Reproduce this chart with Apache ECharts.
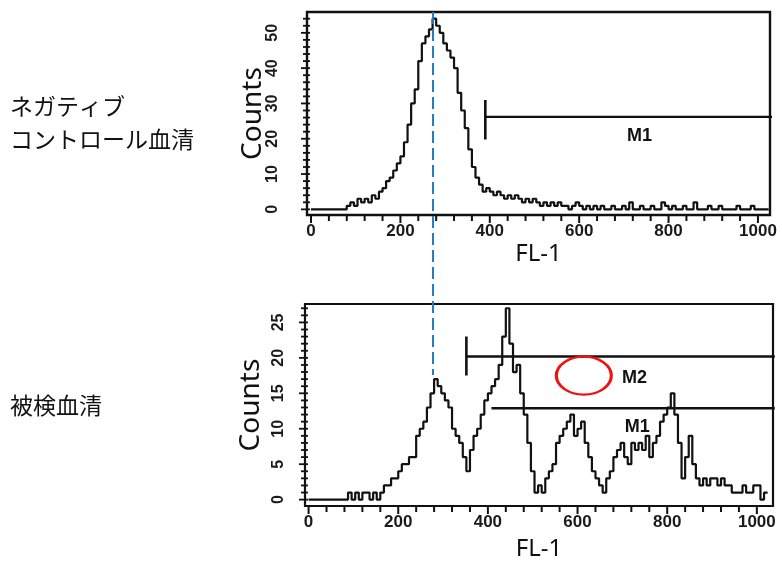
<!DOCTYPE html>
<html>
<head>
<meta charset="utf-8">
<script src="https://cdn.jsdelivr.net/npm/echarts@6/dist/echarts.min.js"></script>
<style>
  html, body { margin: 0; padding: 0; background: #fff; }
  #chart { width: 782px; height: 562px; }
</style>
</head>
<body>
<div id="chart"></div>
<script>
// FL-1 histograms, 8 channels per bin, channels 0..1023
const BIN_WIDTH = 8;

// Negative control serum
const controlCounts = [
  0, 0, 0, 0, 0, 0, 0, 0,
  0, 0, 1, 2, 1, 3, 2, 3,
  2, 4, 3, 5, 6, 8, 9, 11,
  13, 15, 19, 24, 30, 34, 42, 47,
  49, 51, 54, 52, 50, 47, 45, 43,
  40, 33, 28, 23, 17, 12, 9, 7,
  5, 6, 5, 4, 5, 4, 3, 4,
  3, 4, 3, 2, 3, 2, 3, 2,
  1, 2, 1, 2, 1, 2, 1, 1,
  0, 1, 2, 1, 0, 1, 0, 1,
  0, 1, 0, 0, 1, 0, 0, 1,
  0, 2, 0, 0, 1, 0, 0, 1,
  0, 0, 2, 1, 0, 1, 0, 0,
  1, 0, 0, 2, 0, 0, 0, 1,
  0, 0, 1, 0, 0, 0, 0, 1,
  0, 0, 0, 1, 0, 0, 0, 0
];

// Test serum
const sampleCounts = [
  0, 0, 0, 0, 0, 0, 0, 0,
  0, 0, 0, 1, 0, 1, 0, 1,
  1, 0, 1, 0, 1, 2, 2, 3,
  3, 4, 5, 5, 6, 6, 9, 10,
  11, 13, 15, 17, 16, 15, 14, 13,
  10, 9, 8, 6, 4, 7, 9, 10,
  12, 14, 15, 16, 17, 19, 23, 27,
  22, 18, 19, 15, 12, 8, 4, 1,
  2, 1, 3, 4, 5, 8, 9, 10,
  11, 12, 9, 10, 11, 8, 6, 4,
  3, 2, 1, 3, 4, 6, 7, 8,
  6, 5, 8, 7, 8, 7, 9, 6,
  8, 9, 11, 12, 13, 15, 12, 8,
  3, 6, 9, 5, 3, 2, 3, 2,
  3, 3, 2, 3, 2, 2, 1, 1,
  1, 2, 1, 1, 2, 2, 0, 1
];

// Tick labels
const channelTicks = [0, 200, 400, 600, 800, 1000];
const controlCountTicks = [0, 10, 20, 30, 40, 50];
const sampleCountTicks = [0, 5, 10, 15, 20, 25];

// Marker gates (channel range, level, end-bar span)
const controlGates = [
  { name: 'M1', start: 390, end: 1040, level: 26.2, barLow: 19.8, barHigh: 31 }
];
const sampleGates = [
  { name: 'M2', start: 352, end: 1040, level: 20.2, barLow: 17.5, barHigh: 23 },
  { name: 'M1', start: 408, end: 1040, level: 12.9, barLow: null, barHigh: null }
];

// Shared peak channel of the control population
const controlPeakChannel = 273;

// ---- layout ----
const gateLabelAnchors = {
  control: [[735, 20.8]],
  sample: [[727, 17.2], [733, 10.2]]
};
const highlightCenter = [614, 17.5];
const axisRange = [
  { x: [-9, 1027], y: [-1.6, 55.9], yStep: 2, yTop: 54, yMajor: 10 },
  { x: [-8, 1036], y: [-0.9, 27.6], yStep: 1, yTop: 27, yMajor: 5 }
];

function toSteps(counts) {
  const pts = counts.map((c, i) => [i * BIN_WIDTH, c]);
  pts.push([counts.length * BIN_WIDTH, counts[counts.length - 1]]);
  return pts;
}
function tickRange(from, to, step) {
  const out = [];
  for (let v = from; v <= to + 1e-9; v += step) out.push(v);
  return out;
}

const INK = '#111';
const tickFont = { fontFamily: 'Liberation Sans', fontWeight: 'bold', fontSize: 17, color: '#1a1a1a' };
const plain = v => String(v);

function xAxisFor(grid) {
  const r = axisRange[grid];
  return {
    type: 'value', gridIndex: grid, min: r.x[0], max: r.x[1],
    axisLine: { show: true, onZero: false, lineStyle: { color: INK, width: 2 } },
    axisTick: { show: false },
    axisLabel: Object.assign({ customValues: channelTicks, margin: 8, formatter: plain }, tickFont),
    splitLine: { show: false },
    name: 'FL-1', nameLocation: 'middle', nameGap: grid === 0 ? 27 : 31,
    nameTextStyle: { fontFamily: 'Noto Sans', fontSize: 24, color: '#111' }
  };
}
function yAxisFor(grid, ticks, margin) {
  const r = axisRange[grid];
  return {
    type: 'value', gridIndex: grid, min: r.y[0], max: r.y[1],
    axisLine: { show: true, onZero: false, lineStyle: { color: INK, width: 2 } },
    axisTick: { show: false },
    axisLabel: Object.assign({ customValues: ticks, rotate: 90, margin: margin, formatter: plain }, tickFont, { fontSize: 16 }),
    splitLine: { show: false },
    name: 'Counts', nameLocation: 'middle', nameGap: 40, nameRotate: 90, nameMoveOverlap: false,
    nameTextStyle: { fontFamily: 'Noto Sans', fontSize: 28, color: '#111' }
  };
}

// Tick comb of one panel as a custom series: [axis, value] pairs placed through the panel's scales
function tickSeries(grid) {
  const r = axisRange[grid];
  const marks = tickRange(0, 1000, 40).map(v => ['x', v])
    .concat(tickRange(0, r.yTop, r.yStep).map(v => ['y', v]));
  return {
    type: 'custom', xAxisIndex: grid, yAxisIndex: grid, silent: true, clip: false, z: 6,
    data: marks.map((m, i) => [i]),
    renderItem: function (params, api) {
      const m = marks[params.dataIndex];
      if (m[0] === 'x') {
        const p = api.coord([m[1], r.y[0]]);
        const len = m[1] % 200 === 0 ? 8 : 6;
        return { type: 'line', shape: { x1: p[0], y1: p[1], x2: p[0], y2: p[1] + len }, style: { stroke: INK, lineWidth: 2 } };
      }
      const p = api.coord([r.x[0], m[1]]);
      const len = m[1] % r.yMajor === 0 ? 6 : 4;
      return { type: 'line', shape: { x1: p[0] - len, y1: p[1], x2: p[0] + 3, y2: p[1] }, style: { stroke: INK, lineWidth: 1.8 } };
    }
  };
}

function gateSeries(gates, grid, anchors) {
  const out = [];
  gates.forEach((g, k) => {
    out.push({
      type: 'line', xAxisIndex: grid, yAxisIndex: grid, symbol: 'none', silent: true,
      data: [[g.start, g.level], [g.end, g.level]],
      lineStyle: { color: INK, width: 2.4 }
    });
    if (g.barLow !== null) {
      out.push({
        type: 'line', xAxisIndex: grid, yAxisIndex: grid, symbol: 'none', silent: true,
        data: [[g.start, g.barLow], [g.start, g.barHigh]],
        lineStyle: { color: INK, width: 2.6 }
      });
    }
    out.push({
      type: 'scatter', xAxisIndex: grid, yAxisIndex: grid, silent: true,
      symbolSize: 1, itemStyle: { color: 'rgba(0,0,0,0)', opacity: 1 },
      data: [anchors[k]],
      label: {
        show: true, position: 'inside', formatter: g.name, opacity: 1,
        fontFamily: 'Liberation Sans', fontWeight: 'bold', fontSize: 18, color: '#111'
      }
    });
  });
  return out;
}

const chart = echarts.init(document.getElementById('chart'), null, { renderer: 'canvas' });

const option = {
  backgroundColor: '#fff',
  animation: false,
  grid: [
    { left: 307, top: 12, width: 463, height: 203, show: true, borderColor: INK, borderWidth: 2.4, backgroundColor: 'transparent' },
    { left: 305, top: 304, width: 468, height: 203, show: true, borderColor: INK, borderWidth: 2.2, backgroundColor: 'transparent' }
  ],
  xAxis: [xAxisFor(0), xAxisFor(1)],
  yAxis: [
    yAxisFor(0, controlCountTicks, 26),
    yAxisFor(1, sampleCountTicks, 18)
  ],
  series: [
    {
      type: 'line', xAxisIndex: 0, yAxisIndex: 0, step: 'end', symbol: 'none', silent: true,
      data: toSteps(controlCounts), lineStyle: { color: INK, width: 2.2 }
    },
    {
      type: 'line', xAxisIndex: 1, yAxisIndex: 1, step: 'end', symbol: 'none', silent: true,
      data: toSteps(sampleCounts), lineStyle: { color: INK, width: 2.2 }
    },
    tickSeries(0),
    tickSeries(1)
  ]
    .concat(gateSeries(controlGates, 0, gateLabelAnchors.control))
    .concat(gateSeries(sampleGates, 1, gateLabelAnchors.sample))
    .concat([{
      type: 'scatter', xAxisIndex: 1, yAxisIndex: 1, silent: true, z: 5,
      symbol: 'circle', symbolSize: [55, 38],
      itemStyle: { color: 'rgba(0,0,0,0)', borderColor: '#ee1111', borderWidth: 2.6, opacity: 1 },
      data: [highlightCenter]
    }])
};

chart.setOption(option);

// Dashed guide through the control peak, down to the matching test-serum peak
const peakBin = Math.floor(controlPeakChannel / BIN_WIDTH);
const topPt = chart.convertToPixel({ xAxisIndex: 0, yAxisIndex: 0 }, [controlPeakChannel, axisRange[0].y[1]]);
const lowPt = chart.convertToPixel({ xAxisIndex: 1, yAxisIndex: 1 }, [controlPeakChannel, sampleCounts[peakBin + 1] + 0.6]);

chart.setOption({
  graphic: [
    {
      type: 'line', z: 10, silent: true,
      shape: { x1: topPt[0], y1: topPt[1], x2: topPt[0], y2: lowPt[1] },
      style: { stroke: '#1f7cc4', lineWidth: 2, lineDash: [12, 5] }
    },
    {
      type: 'text', left: 10, top: 95, silent: true,
      style: { text: 'ネガティブ', font: '23px "Noto Sans CJK JP"', fill: '#111' }
    },
    {
      type: 'text', left: 10, top: 128, silent: true,
      style: { text: 'コントロール血清', font: '23px "Noto Sans CJK JP"', fill: '#111' }
    },
    {
      type: 'text', left: 10, top: 394, silent: true,
      style: { text: '被検血清', font: '23px "Noto Sans CJK JP"', fill: '#111' }
    }
  ]
});
</script>
</body>
</html>
